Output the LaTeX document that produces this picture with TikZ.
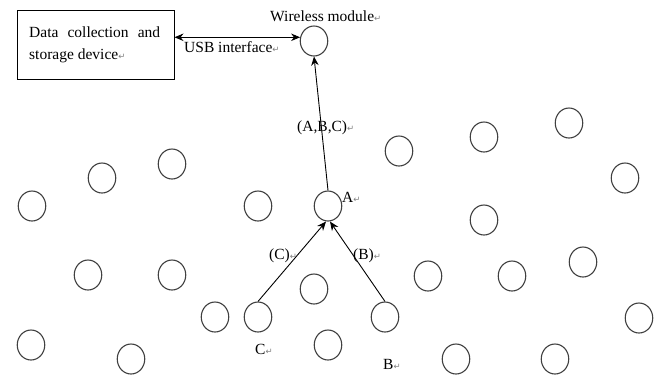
\documentclass[tikz,border=0pt]{standalone}
\usepackage{fontspec}
\setmainfont{Liberation Serif}
\newfontfamily\symfont{DejaVu Sans}
\usetikzlibrary{shapes.geometric,arrows.meta}
\newcommand{\rmark}{{\symfont\fontsize{8.5}{9}\selectfont\color{gray}↵}}
\tikzset{
  sensor/.style={ellipse,draw=black!75,line width=1.1pt,minimum width=27.5pt,minimum height=30pt,inner sep=0pt},
  lbl/.style={font=\fontsize{15.5}{18}\selectfont,inner sep=0pt,anchor=base west},
  link/.style={line width=0.9pt,-{Stealth[length=9pt,width=7.5pt]}},
  dlink/.style={line width=0.9pt,{Stealth[length=9pt,width=7.5pt]}-{Stealth[length=9pt,width=7.5pt]}},
  devbox/.style={draw,line width=1pt,inner sep=0pt}
}
\begin{document}
\begin{tikzpicture}[x=1pt,y=-1pt]
\useasboundingbox (0,0) rectangle (664,381);
% device box
\node[devbox,minimum width=157pt,minimum height=69pt] (box) at (95.5,44.5) {};
\node[lbl] (t1) at (29,37) {\makebox[131pt][s]{Data collection and}};
\node[lbl] (t2) at (29,59) {storage device\rmark};
% main sensors
\node[sensor] (w) at (314,41) {};
\node[sensor] (a) at (328,206) {};
\node[sensor] (b) at (385,317) {};
\node[sensor] (c) at (258,317) {};
% other sensors
\foreach \x/\y [count=\i] in {32/206,102/178,172/164,88/275,172/275,215/317,31/345,131/359,
  258/206,399/151,484/137,569/123,625/178,484/220,428/276,512/276,583/262,639/318,456/359,555/359,314/289,328/345}
  \node[sensor] (n\i) at (\x,\y) {};
% connectors
\draw[dlink] (box.east |- w.165) -- (w.165);
\draw[link] (a.north) -- (w.south);
\draw[link] (c.north) -- ([xshift=-2pt]a.south);
\draw[link] (b.north) -- ([xshift=2pt]a.south);
% labels
\node[lbl] (lw) at (270,21) {Wireless module\rmark};
\node[lbl] (lu) at (184,52) {USB interface\rmark};
\node[lbl] (labc) at (297,131) {(A,B,C)\rmark};
\node[lbl] (la) at (342,202) {A\rmark};
\node[lbl] (lc2) at (269,259) {(C)\rmark};
\node[lbl] (lb2) at (353,259) {(B)\rmark};
\node[lbl] (lc) at (255,354) {C\rmark};
\node[lbl] (lb) at (383,369) {B\rmark};
\end{tikzpicture}
\end{document}
